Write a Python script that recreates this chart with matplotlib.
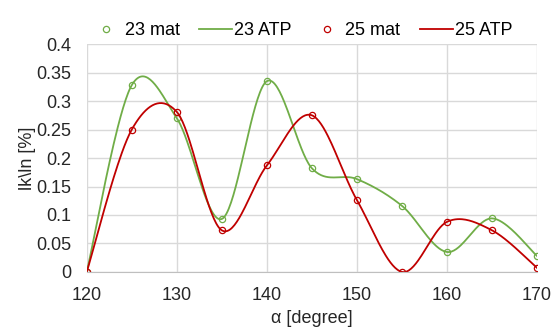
import numpy as np
import matplotlib
matplotlib.use("Agg")
import matplotlib.pyplot as plt

plt.rcParams['font.family'] = ['Liberation Sans', 'DejaVu Sans']

angle = [120, 125, 130, 135, 140, 145, 150, 155, 160, 165, 170]
mat23 = [0.0, 0.328, 0.270, 0.093, 0.335, 0.182, 0.163, 0.116, 0.035, 0.094, 0.028]
atp23 = [0.0, 0.328, 0.270, 0.093, 0.335, 0.182, 0.163, 0.116, 0.035, 0.094, 0.028]
mat25 = [0.0, 0.250, 0.281, 0.073, 0.187, 0.275, 0.126, 0.0, 0.088, 0.073, 0.007]
atp25 = [0.0, 0.250, 0.281, 0.073, 0.187, 0.275, 0.126, 0.0, 0.088, 0.073, 0.007]

green = '#70AD47'
red = '#C00000'
fs = 13


def smooth(x, y, n=40):
    # excel-like smoothed line (bezier with catmull-rom control points)
    p = np.column_stack([x, y]).astype(float)
    pts = np.vstack([p[0], p, p[-1]])
    out = []
    t = np.linspace(0, 1, n)[:, None]
    for i in range(1, len(pts) - 2):
        p0, p1, p2, p3 = pts[i - 1], pts[i], pts[i + 1], pts[i + 2]
        c1 = p1 + (p2 - p0) / 6
        c2 = p2 - (p3 - p1) / 6
        seg = ((1 - t) ** 3) * p1 + 3 * ((1 - t) ** 2) * t * c1 + 3 * (1 - t) * t ** 2 * c2 + t ** 3 * p2
        out.append(seg)
    s = np.vstack(out)
    return s[:, 0], s[:, 1]


fig = plt.figure(figsize=(5.56, 3.32), dpi=100, facecolor='white')
ax = fig.add_axes([0.156, 0.181, 0.81, 0.686])

ax.plot(angle, mat23, 'o', mfc='none', mec=green, ms=4.5, mew=0.9, label='23 mat')
sx, sy = smooth(angle, atp23)
ax.plot(sx, sy, color=green, lw=1.3, label='23 ATP')
ax.plot(angle, mat25, 'o', mfc='none', mec=red, ms=4.5, mew=0.9, label='25 mat')
sx, sy = smooth(angle, atp25)
ax.plot(sx, sy, color=red, lw=1.3, label='25 ATP')

ax.set_xlim(120, 170)
ax.set_ylim(0, 0.4)
ax.set_xticks(range(120, 171, 10))
ax.set_yticks(np.arange(0, 0.401, 0.05))
ax.set_yticklabels(['0', '0.05', '0.1', '0.15', '0.2', '0.25', '0.3', '0.35', '0.4'])
ax.grid(True, color='#D9D9D9', lw=1)
ax.set_axisbelow(True)
for s in ['top', 'right', 'left']:
    ax.spines[s].set_visible(False)
ax.spines['bottom'].set_color('#BFBFBF')
ax.tick_params(length=0, labelsize=fs, colors='#262626')
ax.tick_params(axis='x', pad=11)
ax.tick_params(axis='y', pad=11)

ax.set_xlabel('α [degree]', fontsize=fs, color='#262626', labelpad=4)
ax.set_ylabel('lk\\ln [%]', fontsize=fs, color='#262626', labelpad=0)

ax.legend(loc='lower center', bbox_to_anchor=(0.476, 0.99), ncol=4, frameon=False,
          fontsize=fs, handlelength=1.8, handletextpad=0.1, columnspacing=1.1,
          borderaxespad=0)

fig.savefig('out.png', dpi=100)
